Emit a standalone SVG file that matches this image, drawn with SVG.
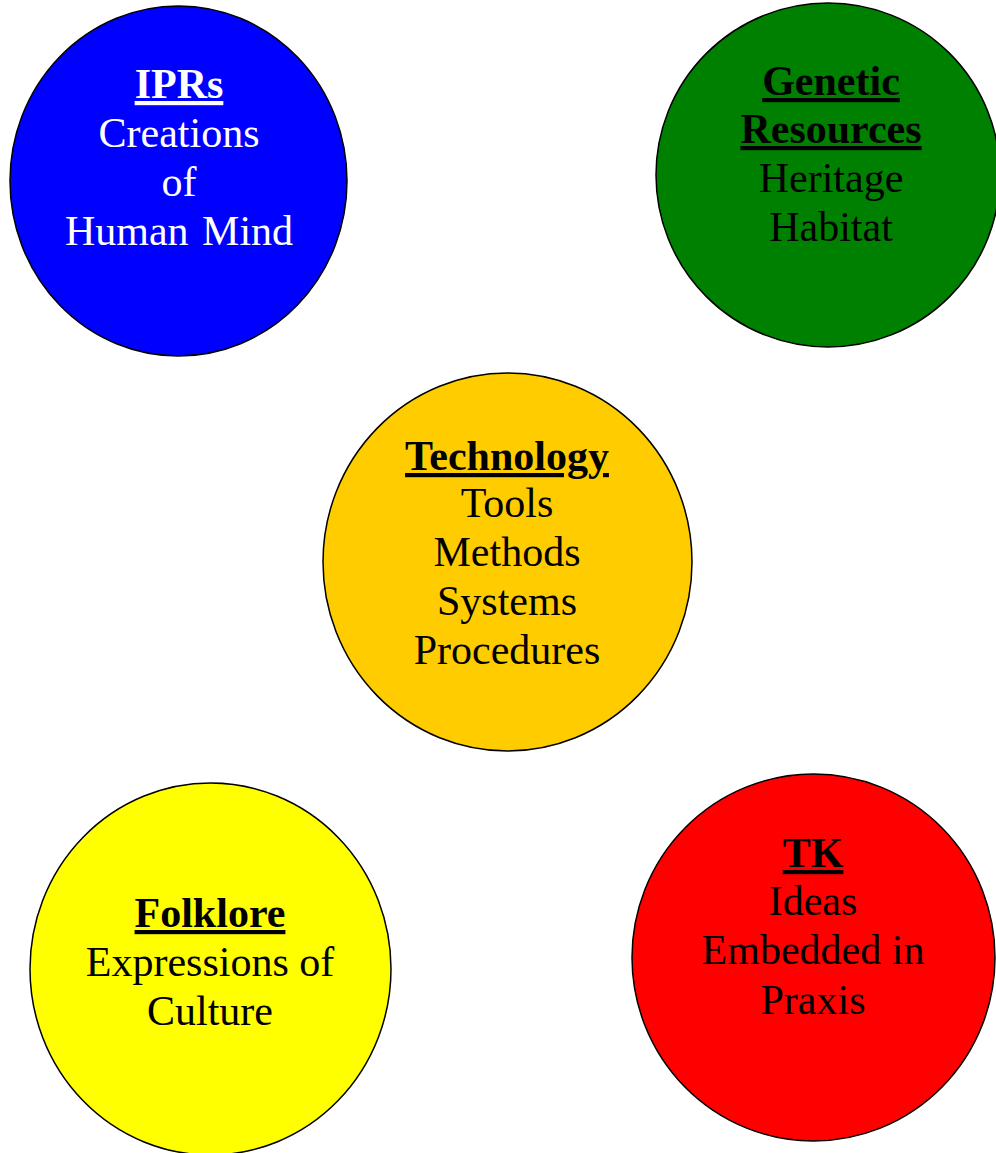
<svg xmlns="http://www.w3.org/2000/svg" width="996" height="1153" viewBox="0 0 996 1153">
<style>
.c{stroke:#000;stroke-width:1.5}
text{font-family:"Liberation Serif","Times New Roman",serif;font-size:42px;text-anchor:middle}
.h{font-weight:bold;text-decoration:underline;text-decoration-thickness:4px;text-underline-offset:3px}
.w{fill:#fff}
.k{fill:#000}
</style>
<rect width="996" height="1153" fill="#fff"/>
<g id="connectors"></g>
<g id="iprs">
<ellipse class="c" cx="178.5" cy="181" rx="168.5" ry="175" fill="#0000FF"/>
<text class="w" x="179" y="98"><tspan class="h">IPRs</tspan></text>
<text class="w" x="179" y="147">Creations</text>
<text class="w" x="179" y="196">of</text>
<text class="w" x="179" y="245" word-spacing="3">Human Mind</text>
</g>
<g id="genetic">
<ellipse class="c" cx="828" cy="175" rx="172" ry="172" fill="#008000"/>
<text class="k" x="831" y="95"><tspan class="h">Genetic</tspan></text>
<text class="k" x="831" y="143"><tspan class="h">Resources</tspan></text>
<text class="k" x="831" y="192">Heritage</text>
<text class="k" x="831" y="241">Habitat</text>
</g>
<g id="technology">
<ellipse class="c" cx="507.5" cy="562" rx="184.5" ry="189" fill="#FFCC00"/>
<text class="k" x="507" y="470"><tspan class="h">Technology</tspan></text>
<text class="k" x="507" y="517">Tools</text>
<text class="k" x="507" y="566">Methods</text>
<text class="k" x="507" y="615">Systems</text>
<text class="k" x="507" y="664">Procedures</text>
</g>
<g id="folklore">
<ellipse class="c" cx="210.5" cy="969" rx="180.5" ry="186" fill="#FFFF00"/>
<text class="k" x="210" y="927"><tspan class="h">Folklore</tspan></text>
<text class="k" x="210" y="976">Expressions of</text>
<text class="k" x="210" y="1025">Culture</text>
</g>
<g id="tk">
<ellipse class="c" cx="813.5" cy="957.5" rx="181.5" ry="183.5" fill="#FF0000"/>
<text class="k" x="813" y="867"><tspan class="h">TK</tspan></text>
<text class="k" x="813" y="915">Ideas</text>
<text class="k" x="813" y="964">Embedded in</text>
<text class="k" x="813" y="1014">Praxis</text>
</g>
</svg>
